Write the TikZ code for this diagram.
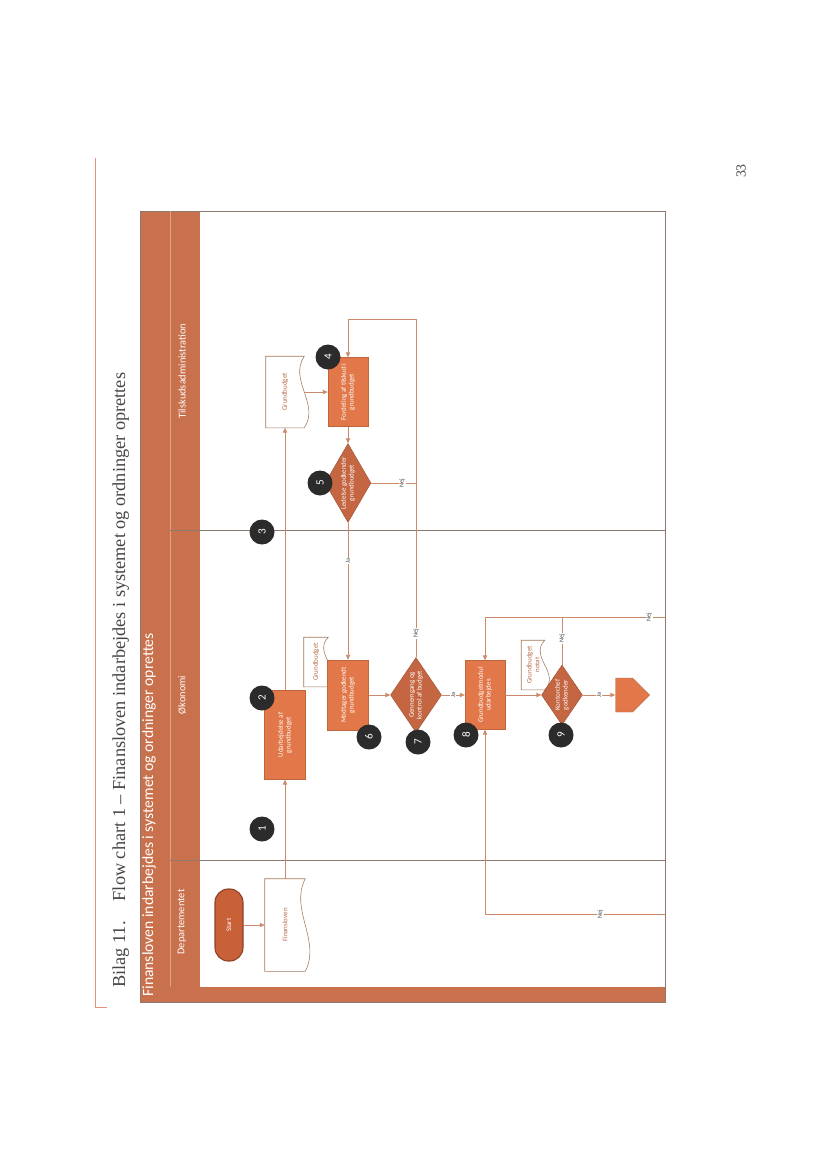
\documentclass[tikz,border=0pt]{standalone}
\usepackage{fontspec}
\setmainfont{Carlito}
\newfontfamily\pageserif{Liberation Serif}
\usetikzlibrary{shapes.geometric,shapes.symbols,arrows.meta,calc}

\definecolor{boxorange}{RGB}{226,120,74}
\definecolor{deciorange}{RGB}{196,102,66}
\definecolor{startorange}{RGB}{200,96,56}
\definecolor{bandorange}{RGB}{201,112,76}
\definecolor{flowline}{RGB}{204,138,106}
\definecolor{laneline}{RGB}{140,122,112}
\definecolor{docline}{RGB}{160,120,92}
\definecolor{doctext}{RGB}{184,104,70}
\definecolor{badgegray}{RGB}{43,43,43}
\definecolor{pageline}{RGB}{232,146,124}
\definecolor{titlegray}{RGB}{70,70,70}

% one pixel of the scanned page
\newcommand{\pxu}{0.025362cm}

\tikzset{
  process/.style={rectangle, rotate=90, fill=boxorange, draw=boxorange!85!black, line width=0.3pt,
    text=white, font=\fontsize{5}{5.6}\selectfont, align=center, inner sep=1pt},
  decision/.style={diamond, rotate=90, fill=deciorange, draw=deciorange!80!black, line width=0.3pt,
    text=white, font=\fontsize{5}{5.6}\selectfont, align=center, inner sep=0pt},
  startnode/.style={rectangle, rounded corners=0.34cm, rotate=90, fill=startorange, draw=startorange!70!black,
    line width=0.8pt, text=white, font=\fontsize{5}{6}\selectfont, minimum width=72*\pxu, minimum height=28*\pxu},
  document/.style={rectangle, rotate=90, text=doctext, font=\fontsize{5}{5.6}\selectfont, align=center, inner sep=1pt},
  offpage/.style={signal, signal to=south, rotate=90, fill=boxorange, draw=boxorange!85!black, line width=0.3pt,
    minimum width=34*\pxu, minimum height=17*\pxu, inner sep=0pt},
  badge/.style={circle, rotate=90, fill=badgegray, text=white, font=\fontsize{8}{8}\selectfont,
    minimum size=25*\pxu, inner sep=0pt},
  flow/.style={draw=flowline, line width=0.5pt, -{Triangle[length=3.5pt,width=3pt]}},
  link/.style={draw=flowline, line width=0.5pt},
  yesno/.style={rotate=90, fill=white, text=titlegray, font=\fontsize{4.5}{5}\selectfont, inner sep=0.6pt},
  lanename/.style={rotate=90, text=white, font=\fontsize{7.5}{8}\selectfont},
}

% outline of a document symbol round a (rotated) node
\newcommand{\docoutline}[1]{%
  \draw[docline, line width=0.4pt] (#1.north east) -- (#1.south east)
    .. controls ($(#1.south east)!0.33!(#1.south west)+(-16,0)$) and ($(#1.south east)!0.67!(#1.south west)+(16,0)$) .. (#1.south west)
    -- (#1.north west) -- cycle;}

\begin{document}
\begin{tikzpicture}[x=\pxu, y=-\pxu]
  \fill[white] (0,0) rectangle (828,1169);

  % page margin line, title and page number
  \draw[pageline, line width=0.6pt] (95,158) -- (95,1007) -- (107,1007);
  \node[rotate=90, anchor=base west, text=titlegray, font=\pageserif\fontsize{13.2}{15}\selectfont, inner sep=0pt]
    (title) at (125,988) {Bilag 11.\hspace{1.1em}Flow chart 1 – Finansloven indarbejdes i systemet og ordninger oprettes};
  \node[rotate=90, text=titlegray, font=\pageserif\fontsize{10}{12}\selectfont] (pagenum) at (741,171) {33};

  % swimlane frame
  \fill[bandorange] (140,211) rectangle (200,1002);
  \fill[bandorange] (140,987) rectangle (665,1002);
  \draw[laneline, line width=0.5pt] (140,211) rectangle (665,1002);
  \draw[white, opacity=0.35, line width=0.4pt] (170,211) -- (170,987);
  \draw[laneline, line width=0.6pt] (170,530) -- (665,530);
  \draw[laneline, line width=0.6pt] (170,860) -- (665,860);
  \node[rotate=90, anchor=base west, text=white, font=\fontsize{11.3}{13}\selectfont, inner sep=0pt]
    (head) at (153,997) {Finansloven indarbejdes i systemet og ordninger oprettes};
  \node[lanename] (laneT) at (182,371) {Tilskudsadministration};
  \node[lanename] (laneO) at (182,695) {Økonomi};
  \node[lanename] (laneD) at (182,922) {Departementet};

  % Departementet
  \node[startnode] (start) at (229,925) {Start};
  \node[document, minimum width=92*\pxu, minimum height=40*\pxu] (fin) at (285,925) {Finansloven};
  \docoutline{fin}

  % Økonomi
  \node[process, minimum width=89*\pxu, minimum height=41*\pxu] (p2) at (285,735) {Udarbejdelse af\\grundbudget};
  \node[document, minimum width=49*\pxu, minimum height=24*\pxu] (gb2) at (316,662) {Grundbudget};
  \docoutline{gb2}
  \node[process, minimum width=70*\pxu, minimum height=41*\pxu] (p6) at (348,695) {Modtager godkendt\\grundbudget};
  \node[decision, minimum width=75*\pxu, minimum height=51*\pxu, aspect=1.47] (d7) at (416,695) {Gennemgang og\\kontrol af budget};
  \node[process, minimum width=69*\pxu, minimum height=40*\pxu] (p8) at (485,695) {Grundbudgetmodul\\udarbejdes};
  \node[document, minimum width=49*\pxu, minimum height=23*\pxu] (notat) at (533,665) {Grundbudget\\notat};
  \docoutline{notat}
  \node[decision, minimum width=60*\pxu, minimum height=41*\pxu, aspect=1.46] (d9) at (562,695) {Kontorchef\\godkender};
  \node[offpage] (off) at (624,695) {};

  % Tilskudsadministration
  \node[document, minimum width=71*\pxu, minimum height=38*\pxu] (gb) at (285,392) {Grundbudget};
  \docoutline{gb}
  \node[process, minimum width=69*\pxu, minimum height=40*\pxu] (p4) at (348,392) {Fordeling af tilskud i\\grundbudget};
  \node[decision, minimum width=79*\pxu, minimum height=46*\pxu, aspect=1.72] (d5) at (348,483) {Ledelse godkender\\grundbudget};

  % forbindelser
  \coordinate (nejtop) at (416,319);
  \coordinate (nejjoin) at (562,617);
  \coordinate (edgeup) at (665,617);
  \coordinate (edgelow) at (665,914);
  \draw[flow] (start) -- (fin);
  \draw[flow] (fin) -- (p2);
  \draw[flow] (p2) -- (gb);
  \draw[flow] (gb) -- (p4);
  \draw[flow] (p4) -- (d5);
  \draw[flow] (d5) -- node[yesno, pos=0.28] {Ja} (p6);
  \draw[flow] (d5) -| node[yesno, pos=0.345] {Nej} (nejtop) -| (p4);
  \draw[link] (d7) -- node[yesno, pos=0.07] {Nej} (nejtop);
  \draw[flow] (p6) -- (d7);
  \draw[flow] (d7) -- node[yesno] {Ja} (p8);
  \draw[flow] (p8) -- (d9);
  \draw[flow] (d9) -- node[yesno] {Ja} (off);
  \draw[flow] (d9) -- node[yesno, pos=0.55] {Nej} (nejjoin) -| (p8);
  \draw[link] (edgeup) -- node[yesno, pos=0.155] {Nej} (nejjoin);
  \draw[flow] (edgelow) -| node[yesno, pos=0.18] {Nej} (p8);

  % numre
  \node[badge] (b1) at (262,829) {1};
  \node[badge] (b2) at (262,698) {2};
  \node[badge] (b3) at (262,532) {3};
  \node[badge] (b4) at (328,357) {4};
  \node[badge] (b5) at (320,483) {5};
  \node[badge] (b6) at (369,737) {6};
  \node[badge] (b7) at (418,742) {7};
  \node[badge] (b8) at (466,735) {8};
  \node[badge] (b9) at (561,735) {9};
\end{tikzpicture}
\end{document}
